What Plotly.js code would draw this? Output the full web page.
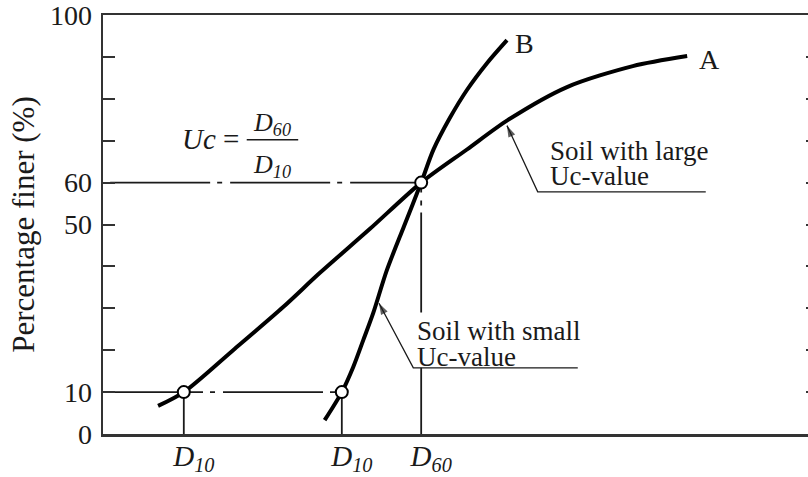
<!DOCTYPE html>
<html>
<head>
<meta charset="utf-8">
<script src="https://cdn.plot.ly/plotly-3.0.1.min.js"></script>
<style>
  html, body { margin: 0; padding: 0; background: #fff; overflow: hidden; }
  #chart { width: 826px; height: 477px; }
</style>
</head>
<body>
<div id="chart"></div>
<script>
// grain size axis is schematic (no numbers), so x is in arbitrary units 0-100
const xRange = [0, 100];
const yRange = [0, 100];

const yTickVals = [0, 10, 50, 60, 100];
const yTickText = ['0', '10', '50', '60', '100'];

// characteristic sizes
const d10Large = 11.3;   // D10 of soil A (large Uc)
const d10Small = 33.4;   // D10 of soil B (small Uc)
const d60 = 44.5;        // D60, common to both
const xTickVals = [d10Large, d10Small, d60];
const xTickText = ['D<sub>10</sub>', 'D<sub>10</sub>', 'D<sub>60</sub>'];

// curve A: well graded soil, large Uc
const curveAx = [7.7, 11.3, 18.2, 25.2, 30.3, 37.3, 44.5, 50.9, 56.6, 64.9, 74.1, 81.7];
const curveAy = [6.7, 10, 20.0, 30.3, 38.4, 48.9, 60, 67.9, 74.9, 82.8, 87.8, 90.2];

// curve B: uniform soil, small Uc
const curveBx = [31.0, 33.4, 35.0, 36.4, 37.8, 39.7, 42.1, 44.5, 46.2, 48.5, 50.9, 53.7, 56.5];
const curveBy = [3.3, 10, 16.0, 22.4, 28.9, 39.1, 49.6, 60, 67.8, 75.4, 82.1, 88.5, 94.0];

// leader lines: [end, bend, tip on curve]
const leaderLargeX = [84.3, 60.8, 56.5];
const leaderLargeY = [57.8, 57.8, 73.6];
const leaderSmallX = [66.4, 43.4, 38.6];
const leaderSmallY = [15.8, 15.8, 31.2];

const serif = 'Liberation Serif, Times New Roman, serif';
const ink = '#1a1a1a';
const dashDot = '100px,7px,5px,8px';

function guide(x, y, dash) {
  return {
    x: x, y: y, type: 'scatter', mode: 'lines', hoverinfo: 'skip',
    line: { color: ink, width: 1.8, dash: dash || 'solid' }
  };
}

function leader(x, y) {
  return {
    x: x, y: y, type: 'scatter', mode: 'lines+markers', hoverinfo: 'skip',
    line: { color: ink, width: 1.3 },
    marker: { symbol: 'arrow', angleref: 'previous', size: [0, 0, 12], color: ink, line: { width: 0 } }
  };
}

const traces = [
  // 60 % line and its drop to D60 (broken where the label sits)
  guide([1.0, d60], [60, 60], dashDot),
  guide([d60, d60], [leaderSmallY[0] + 13.2, 60], dashDot),
  guide([d60, d60], [0, leaderSmallY[0]]),
  // 10 % line and the two D10 drops
  guide([0, d10Small], [10, 10], dashDot),
  guide([d10Large, d10Large], [0, 10]),
  guide([d10Small, d10Small], [0, 10]),
  leader(leaderLargeX, leaderLargeY),
  leader(leaderSmallX, leaderSmallY),
  // grading curves
  {
    x: curveAx, y: curveAy, type: 'scatter', mode: 'lines', name: 'A',
    line: { color: '#000', width: 4, shape: 'spline', smoothing: 0.8 }
  },
  {
    x: curveBx, y: curveBy, type: 'scatter', mode: 'lines', name: 'B',
    line: { color: '#000', width: 4, shape: 'spline', smoothing: 0.8 }
  },
  // open circles at D10 / D60
  {
    x: [d10Large, d10Small, d60], y: [10, 10, 60], type: 'scatter', mode: 'markers',
    hoverinfo: 'skip',
    marker: { symbol: 'circle', size: 12, color: '#fff', line: { color: '#000', width: 2 } }
  }
];

function label(x, y, text, opts) {
  return Object.assign({
    x: x, y: y, xref: 'x', yref: 'y', text: text, showarrow: false,
    xanchor: 'left', yanchor: 'middle',
    font: { family: serif, size: 27, color: ink }
  }, opts || {});
}

const annotations = [
  label(84.8, 89.3, 'A', { xanchor: 'center', font: { family: serif, size: 28, color: ink } }),
  label(59.0, 93.3, 'B', { xanchor: 'center', font: { family: serif, size: 28, color: ink } }),
  label(62.3, 67.5, 'Soil with large'),
  label(62.3, 61.6, 'Uc-value'),
  label(43.7, 24.6, 'Soil with small'),
  label(43.7, 18.4, 'Uc-value'),
  // Uc = D60 / D10
  label(10.8, 70.4, '<i>Uc</i> =', { font: { family: serif, size: 29, color: ink } }),
  label(23.6, 74.0, 'D<sub>60</sub>', { xanchor: 'center', font: { family: serif, size: 26, color: ink, style: 'italic' } }),
  label(23.6, 64.0, 'D<sub>10</sub>', { xanchor: 'center', font: { family: serif, size: 26, color: ink, style: 'italic' } })
];

const shapes = [
  // fraction bar of the Uc formula
  { type: 'line', xref: 'x', yref: 'y', x0: 20.1, x1: 27.3, y0: 70.2, y1: 70.2,
    line: { color: ink, width: 1.5 } }
];

const layout = {
  width: 826,
  height: 477,
  margin: { l: 103, r: 8, t: 15, b: 43 },
  paper_bgcolor: '#fff',
  plot_bgcolor: '#fff',
  showlegend: false,
  font: { family: serif, color: ink },
  xaxis: {
    range: xRange,
    showgrid: false, zeroline: false,
    showline: true, mirror: true, linecolor: '#333', linewidth: 2.5,
    ticks: '',
    tickmode: 'array', tickvals: xTickVals, ticktext: xTickText,
    tickfont: { family: serif, size: 29, color: ink, style: 'italic' },
    ticklabelshift: 10,
    ticklabelstandoff: -5,
    ticklabeloverflow: 'allow'
  },
  yaxis: {
    range: yRange,
    showgrid: false, zeroline: false,
    showline: true, mirror: 'ticks', linecolor: '#333', linewidth: 2.5,
    ticks: 'inside', ticklen: 12, tickwidth: 2, tickcolor: '#333',
    tickmode: 'array', tickvals: yTickVals, ticktext: yTickText,
    minor: { dtick: 10, ticks: 'inside', ticklen: 12, tickwidth: 2, tickcolor: '#333', showgrid: false },
    tickfont: { family: serif, size: 28, color: ink },
    ticklabelstandoff: 3,
    ticklabeloverflow: 'allow',
    title: { text: 'Percentage finer (%)', font: { family: serif, size: 31, color: ink }, standoff: 6 }
  },
  annotations: annotations,
  shapes: shapes
};

Plotly.newPlot('chart', traces, layout, { displayModeBar: false, staticPlot: true });
</script>
</body>
</html>
